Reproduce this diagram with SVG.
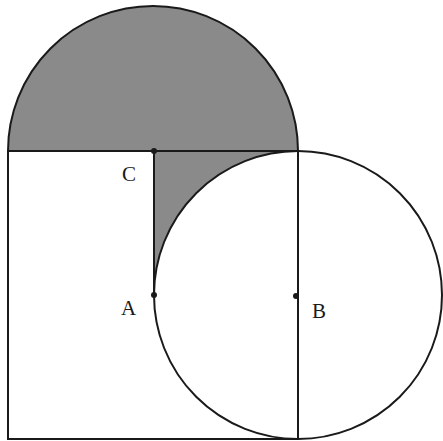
<svg xmlns="http://www.w3.org/2000/svg" width="443" height="441" viewBox="0 0 443 441">
<style>
.ln{fill:none;stroke:#1a1a1a;stroke-width:2}
.sh{fill:#8a8a8a;stroke:none}
.lb{font-family:"Liberation Serif",serif;font-size:21px;fill:#1a1a1a}
.pt{fill:#1a1a1a}
</style>
<rect width="443" height="441" fill="#fff"/>
<g id="shaded">
<path class="sh" d="M8,151 A145,145 0 0 1 298,151 Z"/>
<path class="sh" d="M154,151 L154,295 A144,144 0 0 1 298,151 Z"/>
</g>
<g id="connectors">
<path class="ln" d="M8,151 A145,145 0 0 1 298,151"/>
<rect class="ln" x="8" y="151" width="290" height="288"/>
<line class="ln" x1="154" y1="151" x2="154" y2="295"/>
<circle class="ln" cx="298" cy="295" r="144"/>
</g>
<g id="C"><circle class="pt" cx="154" cy="151" r="3"/><text class="lb" x="122" y="181">C</text></g>
<g id="A"><circle class="pt" cx="154" cy="295" r="3"/><text class="lb" x="121" y="315">A</text></g>
<g id="B"><circle class="pt" cx="296" cy="296" r="3"/><text class="lb" x="312" y="318">B</text></g>
</svg>
